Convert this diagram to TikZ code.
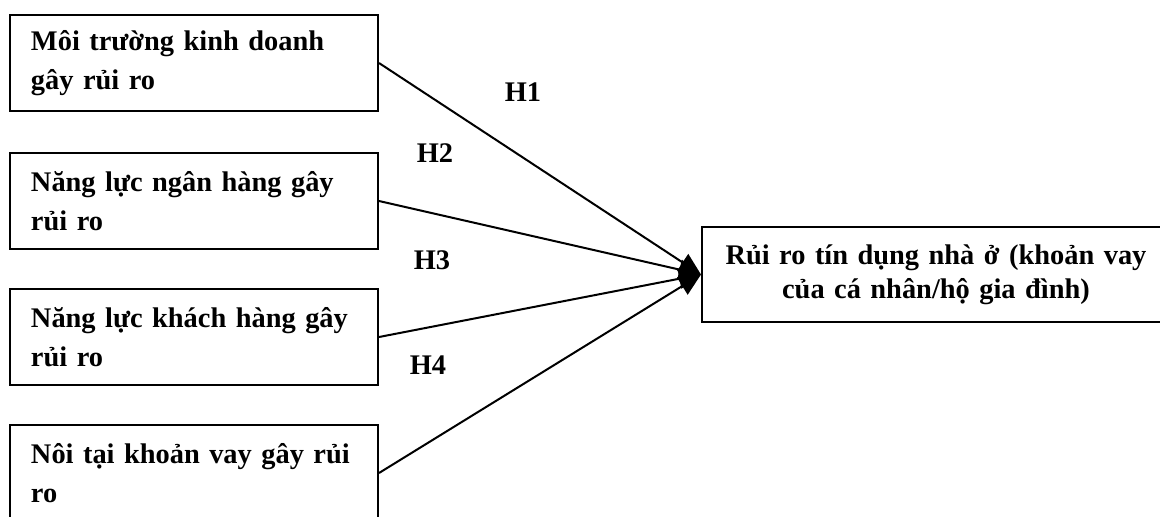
\documentclass[tikz,border=0pt]{standalone}
\usepackage{fontspec}
\setmainfont{Liberation Serif}
\usetikzlibrary{arrows.meta}

\begin{document}
\begin{tikzpicture}[x=0.5pt,y=-0.5pt,line width=1pt,
    every node/.style={font=\fontsize{14.2}{19.5}\selectfont\bfseries},
    factor/.style={draw, text width=163pt, inner xsep=10.5pt, inner ysep=0pt, minimum height=48pt, align=left},
    target/.style={draw, text width=224pt, inner xsep=5pt, minimum height=47.5pt, align=center, font=\fontsize{14.2}{17}\selectfont\bfseries},
    link/.style={-{Triangle[length=11pt,width=10pt]}}]
    \useasboundingbox (0,0) rectangle (1160,516);
    \clip (0,0) rectangle (1160,516);
    \node[factor] (f1) at (194,63) {Môi trường kinh doanh\\gây rủi ro};
    \node[factor] (f2) at (194,201) {Năng lực ngân hàng gây\\rủi ro};
    \node[factor] (f3) at (194,337) {Năng lực khách hàng gây\\rủi ro};
    \node[factor] (f4) at (194,473) {Nôi tại khoản vay gây rủi\\ro};
    \node[target] (y) at (936,274.5) {Rủi ro tín dụng nhà ở (khoản vay\\của cá nhân/hộ gia đình)};
    \draw[link] (f1.east) -- (y.west);
    \draw[link] (f2.east) -- (y.west);
    \draw[link] (f3.east) -- (y.west);
    \draw[link] (f4.east) -- (y.west);
    \node (h1) at (523,92) {H1};
    \node (h2) at (435,153) {H2};
    \node (h3) at (432,260) {H3};
    \node (h4) at (428,365) {H4};
\end{tikzpicture}
\end{document}
